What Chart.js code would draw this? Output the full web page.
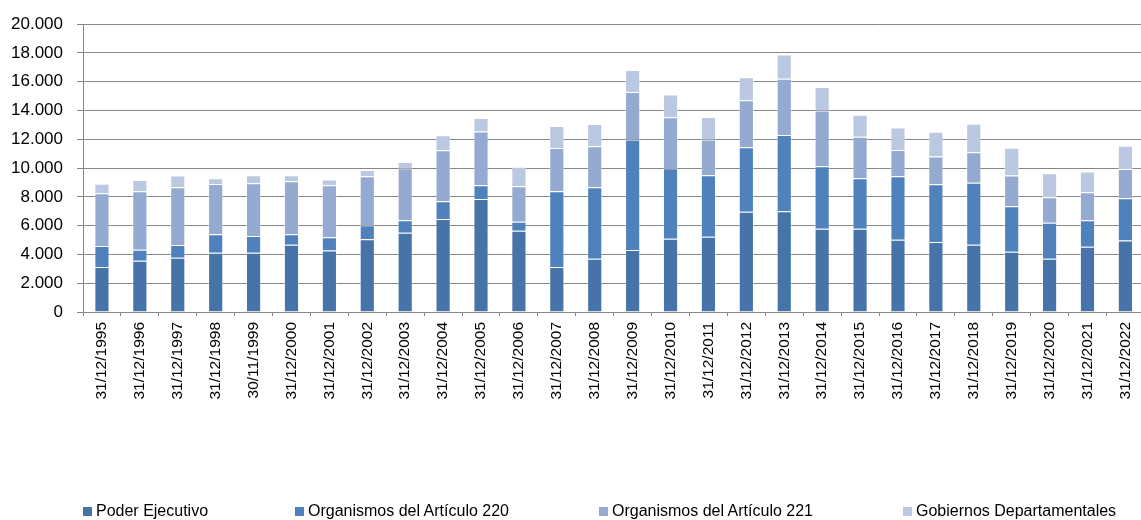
<!DOCTYPE html>
<html>
<head>
<meta charset="utf-8">
<script src="https://cdn.jsdelivr.net/npm/chart.js@4/dist/chart.umd.min.js"></script>
<style>
html,body{margin:0;padding:0;background:#fff;overflow:hidden;width:1141px;height:520px;}
#wrap{position:absolute;left:0;top:0;width:1150px;height:420px;}
#legend{position:absolute;left:0;top:0;width:1141px;height:520px;pointer-events:none;font-family:"Liberation Sans",Arial,sans-serif;font-size:16px;color:#000;}
.li{position:absolute;top:502px;white-space:nowrap;line-height:17px;}
.li span.b{display:inline-block;width:9px;height:9px;margin-right:4px;vertical-align:0px;}
</style>
</head>
<body>
<div id="wrap"><canvas id="c"></canvas></div>
<div id="legend"></div>
<script>
const categories = ["31/12/1995","31/12/1996","31/12/1997","31/12/1998","30/11/1999","31/12/2000","31/12/2001","31/12/2002","31/12/2003","31/12/2004","31/12/2005","31/12/2006","31/12/2007","31/12/2008","31/12/2009","31/12/2010","31/12/2011","31/12/2012","31/12/2013","31/12/2014","31/12/2015","31/12/2016","31/12/2017","31/12/2018","31/12/2019","31/12/2020","31/12/2021","31/12/2022"];
const poderEjecutivo = [3120,3560,3770,4120,4120,4670,4280,5060,5500,6470,7860,5640,3120,3700,4300,5090,5230,6960,7010,5780,5780,5020,4860,4670,4180,3700,4530,4970];
const organismos220 = [1460,760,880,1290,1170,740,920,970,880,1230,950,630,5270,4970,7680,4900,4270,4490,5290,4350,3510,4410,4020,4320,3170,2500,1850,2940];
const organismos221 = [3670,4070,4020,3490,3660,3680,3610,3400,3610,3540,3740,2470,3010,2840,3300,3540,2480,3260,3910,3880,2890,1830,1920,2110,2130,1780,1940,2030];
const gobiernosDep = [670,790,810,390,550,410,390,440,440,1040,930,1360,1520,1550,1530,1590,1570,1610,1690,1620,1530,1570,1730,1990,1940,1660,1440,1620];
const seriesNames = ["Poder Ejecutivo","Organismos del Artículo 220","Organismos del Artículo 221","Gobiernos Departamentales"];
const yTicks = [0,2000,4000,6000,8000,10000,12000,14000,16000,18000,20000];

const colors = ["#4673a8","#4f81bd","#95aad1","#bac8e1"];
const seriesData = [poderEjecutivo, organismos220, organismos221, gobiernosDep];

const fmt = v => String(v).replace(/\B(?=(\d{3})+(?!\d))/g, ".");

const chart = new Chart(document.getElementById('c'), {
  type: 'bar',
  data: {
    labels: categories,
    datasets: seriesData.map((d,i)=>({
      label: seriesNames[i],
      data: d,
      backgroundColor: colors[i],
      borderColor: 'rgba(255,255,255,0.45)',
      borderWidth: 1,
      borderSkipped: 'bottom',
      barPercentage: 0.4,
      categoryPercentage: 1.0
    }))
  },
  options: {
    responsive: true,
    maintainAspectRatio: false,
    animation: false,
    devicePixelRatio: 1,
    layout: { padding: { top: 11, right: 0, bottom: 0, left: 0 } },
    plugins: { legend: { display: false }, tooltip: { enabled: false } },
    scales: {
      x: {
        stacked: true,
        grid: { display: true, drawOnChartArea: false, drawTicks: true, tickLength: 4, color: '#868686', offset: true },
        border: { display: true, color: '#868686', width: 1 },
        ticks: { color: '#000', font: { family: '"Liberation Sans", Arial, sans-serif', size: 15.5 }, maxRotation: 90, minRotation: 90, autoSkip: false, padding: 6 },
        afterFit: s => { s.height = 108; }
      },
      y: {
        stacked: true,
        min: 0, max: 20000,
        afterBuildTicks: s => { s.ticks = yTicks.map(v=>({value:v})); },
        grid: { color: '#868686', lineWidth: 1, tickLength: 6, drawTicks: true },
        border: { display: true, color: '#868686', width: 1 },
        ticks: { color: '#000', font: { family: '"Liberation Sans", Arial, sans-serif', size: 17 }, padding: 14, callback: v => fmt(v) },
        afterFit: s => { s.width = 83; }
      }
    }
  }
});

const legendLefts = [83, 295, 599, 903];
const lg = document.getElementById('legend');
chart.data.datasets.forEach((ds,i)=>{
  const d = document.createElement('div');
  d.className = 'li';
  d.style.left = legendLefts[i] + 'px';
  const b = document.createElement('span');
  b.className = 'b';
  b.style.background = ds.backgroundColor;
  d.appendChild(b);
  d.appendChild(document.createTextNode(ds.label));
  lg.appendChild(d);
});
</script>
</body>
</html>
